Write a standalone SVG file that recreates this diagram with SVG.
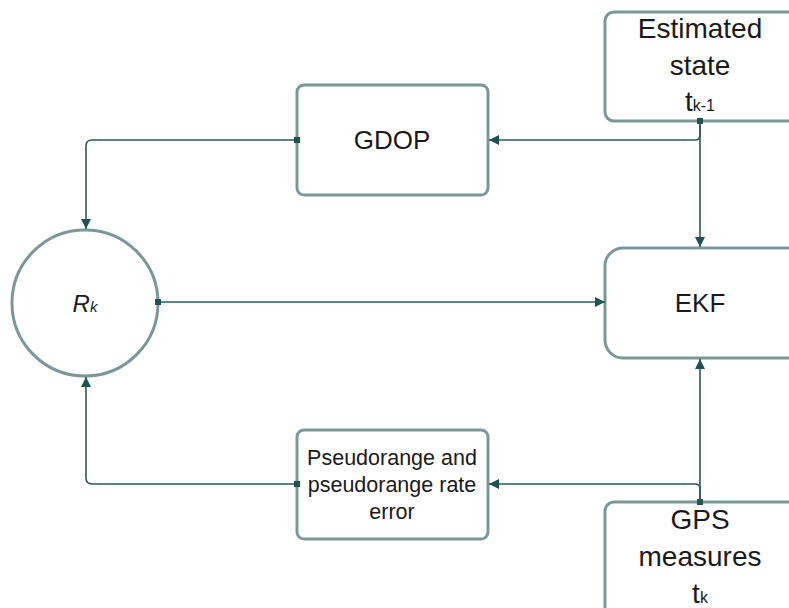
<svg xmlns="http://www.w3.org/2000/svg" width="789" height="608" viewBox="0 0 789 608">
<style>
.box{fill:#ffffff;stroke:#7a9898;stroke-width:3}
.lbl{font-family:"Liberation Sans",Arial,sans-serif;fill:#1a1a1a;text-anchor:middle}
.big{font-size:28px}
.mid{font-size:26px}
.sm{font-size:21.5px}
.sub{font-size:16px}
.con{fill:none;stroke:#2b5a5a;stroke-width:1.6}
</style>
<defs>
<marker id="arr" viewBox="0 0 10 10" refX="10" refY="5" markerWidth="10" markerHeight="10" markerUnits="userSpaceOnUse" orient="auto">
<path d="M0,0 L10,5 L0,10 Z" fill="#1f5252"/>
</marker>
<marker id="sq" viewBox="0 0 6 6" refX="3" refY="3" markerWidth="6" markerHeight="6" markerUnits="userSpaceOnUse" orient="auto">
<rect x="0" y="0" width="6" height="6" fill="#1f5252"/>
</marker>
</defs>
<g id="estimated">
<rect class="box" x="605" y="12" width="200" height="109" rx="9"/>
<text class="lbl big" x="700" y="38">Estimated</text>
<text class="lbl big" x="700" y="75">state</text>
<text class="lbl big" x="700" y="111">t<tspan class="sub">k-1</tspan></text>
</g>
<g id="gdop">
<rect class="box" x="297" y="85" width="191" height="110" rx="7"/>
<text class="lbl mid" x="392" y="149">GDOP</text>
</g>
<g id="rk">
<circle class="box" cx="85" cy="303" r="73"/>
<text class="lbl" x="85" y="312" style="font-size:24px;font-style:italic">R<tspan style="font-size:15px">k</tspan></text>
</g>
<g id="ekf">
<rect class="box" x="605" y="248" width="200" height="110" rx="18"/>
<text class="lbl mid" x="700" y="312">EKF</text>
</g>
<g id="pseudo">
<rect class="box" x="297" y="430" width="191" height="109" rx="7"/>
<text class="lbl sm" x="392" y="465">Pseudorange and</text>
<text class="lbl sm" x="392" y="492">pseudorange rate</text>
<text class="lbl sm" x="392" y="519">error</text>
</g>
<g id="gps">
<rect class="box" x="605" y="502" width="200" height="120" rx="9"/>
<text class="lbl big" x="700" y="529">GPS</text>
<text class="lbl big" x="700" y="566">measures</text>
<text class="lbl big" x="700" y="603">t<tspan class="sub">k</tspan></text>
</g>
<g id="connectors">
<path class="con" d="M700,121 L700,247" marker-start="url(#sq)" marker-end="url(#arr)"/>
<path class="con" d="M700,121 L700,135 Q700,140 695,140 L489,140" marker-end="url(#arr)"/>
<path class="con" d="M297,140 L92,140 Q86,140 86,146 L86,229" marker-start="url(#sq)" marker-end="url(#arr)"/>
<path class="con" d="M158,302 L605,302" marker-start="url(#sq)" marker-end="url(#arr)"/>
<path class="con" d="M700,502 L700,359" marker-start="url(#sq)" marker-end="url(#arr)"/>
<path class="con" d="M700,502 L700,489 Q700,484 695,484 L489,484" marker-end="url(#arr)"/>
<path class="con" d="M297,484 L92,484 Q86,484 86,478 L86,377" marker-start="url(#sq)" marker-end="url(#arr)"/>
</g>
</svg>
